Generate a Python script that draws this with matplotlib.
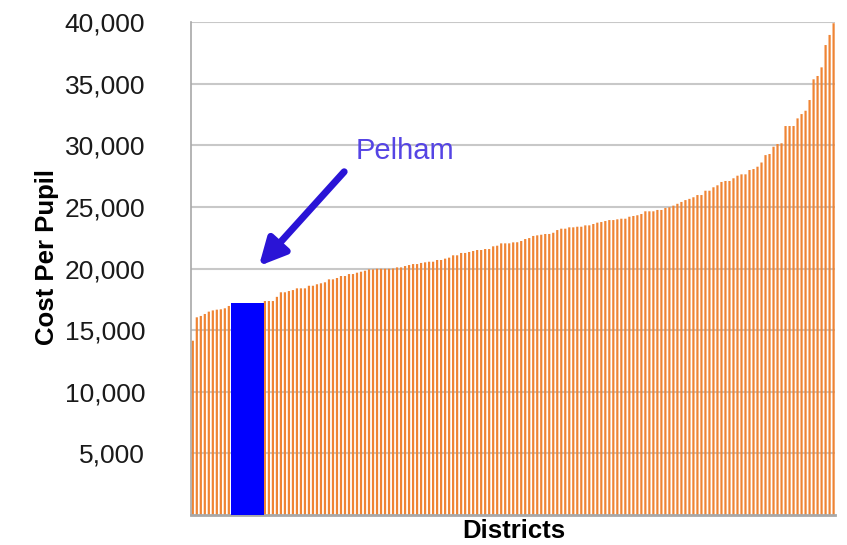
import numpy as np
import matplotlib.pyplot as plt

plt.rcParams['font.family'] = ['Liberation Sans', 'DejaVu Sans']

# cost per pupil, districts sorted ascending
before_pelham = [14140, 16040, 16150, 16310, 16500, 16600, 16660, 16690, 16770, 16960]
pelham = 17220
after_pelham = [
    17360, 17360, 17360, 17700, 18070, 18070, 18170, 18250, 18390, 18390,
    18390, 18600, 18600, 18720, 18800, 18880, 19120, 19120, 19230, 19390,
    19390, 19550, 19550, 19660, 19740, 19820, 19930, 19930, 19980, 19980,
    19980, 19980, 20000, 20090, 20090, 20200, 20280, 20360, 20360, 20450,
    20500, 20550, 20550, 20690, 20690, 20800, 20880, 21070, 21070, 21260,
    21260, 21340, 21420, 21500, 21500, 21580, 21580, 21800, 21850, 22040,
    22040, 22040, 22120, 22130, 22230, 22390, 22470, 22640, 22690, 22740,
    22800, 22800, 22900, 23120, 23230, 23230, 23340, 23340, 23390, 23390,
    23500, 23500, 23610, 23720, 23770, 23850, 23930, 23930, 23990, 24040,
    24040, 24200, 24260, 24320, 24420, 24640, 24640, 24640, 24750, 24750,
    24910, 24970, 25100, 25250, 25400, 25550, 25650, 25780, 25960, 25960,
    26310, 26310, 26590, 26750, 27020, 27100, 27100, 27320, 27530, 27640,
    27640, 27990, 28070, 28260, 28600, 29200, 29290, 29880, 30100, 30160,
    31560, 31560, 31560, 32180, 32530, 32800, 33670, 35350, 35620, 36320,
    38130, 38950, 39900,
]
yticks = [5000, 10000, 15000, 20000, 25000, 30000, 35000, 40000]

fig = plt.figure(figsize=(8.47, 5.45), dpi=100)
ax = fig.add_axes([191/847, 30/545, 644/847, 493/545])

# slots: the Pelham bar takes the room of about 8 ordinary bars
gap = 8
x_before = np.arange(len(before_pelham))
x_after = np.arange(len(after_pelham)) + len(before_pelham) + gap
ax.bar(x_before, before_pelham, width=0.55, color='#ef8434', lw=0,
       snap=False, zorder=2)
ax.bar(x_after, after_pelham, width=0.55, color='#ef8434', lw=0,
       snap=False, zorder=2)
ax.bar(len(before_pelham) - 0.5, pelham, width=gap + 0.2, align='edge',
       color='#0000ff', zorder=3)

ax.set_xlim(-0.45, x_after[-1] + 0.35)
ax.set_ylim(0, 40000)
ax.set_yticks(yticks)
ax.set_yticklabels(['{:,}'.format(v) for v in yticks], fontsize=19, color='#1a1a1a')
ax.set_xticks([])
ax.tick_params(axis='y', length=0, pad=33)
ax.grid(axis='y', color='#c8c8c8', lw=1.5, zorder=0)
for s in ['top', 'right']:
    ax.spines[s].set_visible(False)
ax.spines['left'].set_color('#a8a8a8')
ax.spines['left'].set_linewidth(1.2)
ax.spines['bottom'].set_color('#a8a8a8')
ax.spines['bottom'].set_linewidth(2)

fig.text(47/847, 1 - 257/545, 'Cost Per Pupil', rotation=90, ha='center',
         va='center', fontsize=18.5, fontweight='bold')
fig.text(514/847, 1 - 531/545, 'Districts', ha='center', va='center',
         fontsize=18.5, fontweight='bold')

# Pelham callout
ax.annotate('', xy=(16.5, 20200), xytext=(37.8, 27850),
            arrowprops=dict(arrowstyle='-|>', color='#2a14d6', lw=5,
                            mutation_scale=40, shrinkA=0, shrinkB=0))
ax.text(52.9, 29500, 'Pelham', ha='center', va='center', fontsize=21,
        color='#5544e4')

fig.savefig('out.png', dpi=100)
